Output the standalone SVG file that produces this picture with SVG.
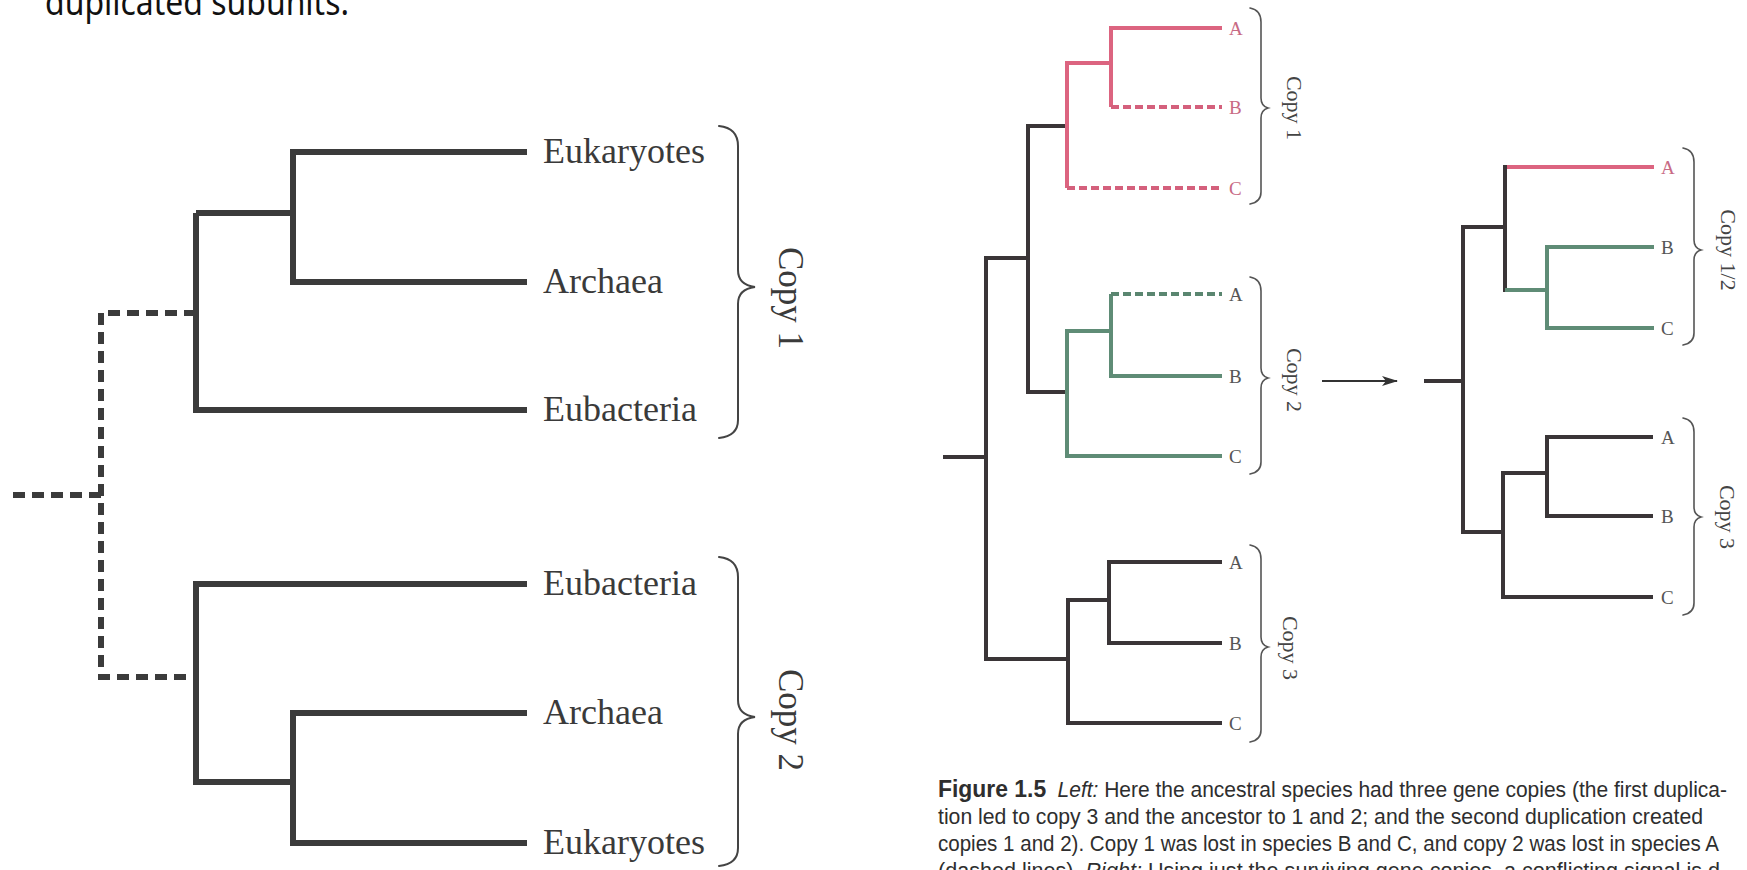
<svg xmlns="http://www.w3.org/2000/svg" width="1747" height="870" viewBox="0 0 1747 870">
  <defs>
    <style>
      .lt { fill: none; stroke: #3b3b3b; stroke-width: 6; stroke-linejoin: miter; stroke-linecap: butt; }
      .lt-dash { fill: none; stroke: #3b3b3b; stroke-width: 6; stroke-dasharray: 12 7; stroke-linecap: butt; }
      .br { fill: none; stroke: #444; stroke-width: 2; stroke-linecap: round; }
      .brs { fill: none; stroke: #555; stroke-width: 1.6; stroke-linecap: round; }
      .k { fill: none; stroke: #3a3537; stroke-width: 4; stroke-linejoin: miter; }
      .r { fill: none; stroke: #dc6480; stroke-width: 4; stroke-linejoin: miter; }
      .r-dash { fill: none; stroke: #d4607c; stroke-width: 4; stroke-dasharray: 8 4; }
      .g { fill: none; stroke: #5f8c76; stroke-width: 4; stroke-linejoin: miter; }
      .g-dash { fill: none; stroke: #5a8670; stroke-width: 4; stroke-dasharray: 8 4; }
      .taxon { font-family: "Liberation Serif", "Times New Roman", serif; font-size: 36px; fill: #3a3a3a; }
      .copyL { font-family: "Liberation Serif", "Times New Roman", serif; font-size: 35px; fill: #3a3a3a; text-anchor: middle; }
      .leaf { font-family: "Liberation Serif", "Times New Roman", serif; font-size: 19px; fill: #555; }
      .leaf-r { fill: #c86a84; }
      .copyS { font-family: "Liberation Serif", "Times New Roman", serif; font-size: 22px; fill: #444; text-anchor: middle; }
      .cap { font-family: "Liberation Sans", Arial, sans-serif; font-size: 22px; fill: #2e2e2e; }
      .b { font-weight: bold; font-size: 24px; }
      .i { font-style: italic; }
      .head { font-family: "Noto Sans", "DejaVu Sans", sans-serif; font-size: 36px; fill: #111; }
    </style>
    <marker id="arrowhead" viewBox="0 0 16 10" refX="15" refY="5" markerWidth="16" markerHeight="10" markerUnits="userSpaceOnUse" orient="auto">
      <path d="M0,0 L16,5 L0,10 L4,5 z" fill="#333"/>
    </marker>
  </defs>

  <rect width="1747" height="870" fill="#fff"/>

  <!-- heading, clipped by the top edge -->
  <text class="head" x="45" y="15" textLength="304" lengthAdjust="spacingAndGlyphs">duplicated subunits:</text>

  <g id="connectors">
    <!-- ancestral duplication (dashed) -->
    <path class="lt-dash" d="M13,495 H101"/>
    <path class="lt-dash" d="M196,313 H101 V677 H196"/>

    <!-- copy 1 -->
    <path class="lt" d="M196,213 V410 H527"/>
    <path class="lt" d="M196,213 H293"/>
    <path class="lt" d="M527,152 H293 V282 H527"/>

    <!-- copy 2 -->
    <path class="lt" d="M527,584 H196 V782 H293"/>
    <path class="lt" d="M527,713 H293 V843 H527"/>

    <!-- species tree with three copies -->
    <path class="k" d="M943,457 H986"/>
    <path class="k" d="M1028,258 H986 V659 H1068"/>
    <path class="k" d="M1067,126 H1028 V392 H1067"/>

    <path class="r" d="M1222,28 H1111 V107"/>
    <path class="r" d="M1111,63 H1067 V188"/>
    <path class="r-dash" d="M1111,107 H1222"/>
    <path class="r-dash" d="M1067,188 H1222"/>

    <path class="g" d="M1111,294 V376 H1222"/>
    <path class="g" d="M1111,331 H1067 V456 H1222"/>
    <path class="g-dash" d="M1111,294 H1222"/>

    <path class="k" d="M1222,562 H1109 V643 H1222"/>
    <path class="k" d="M1109,600 H1068 V723 H1222"/>

    <!-- transition arrow -->
    <path d="M1322,381 H1397" stroke="#333" stroke-width="2.2" fill="none" marker-end="url(#arrowhead)"/>

    <!-- gene tree from surviving copies -->
    <path class="k" d="M1424,381 H1463"/>
    <path class="k" d="M1505,227 H1463 V532 H1503"/>
    <path class="k" d="M1507,167 H1505 V292"/>
    <path class="r" d="M1507,167 H1654"/>
    <path class="g" d="M1505,290 H1547"/>
    <path class="g" d="M1654,247 H1547 V328 H1654"/>
    <path class="k" d="M1653,437 H1547 V516 H1653"/>
    <path class="k" d="M1547,473 H1503 V597 H1653"/>
  </g>

  <g id="node-left-copy1">
    <text class="taxon" x="543" y="163">Eukaryotes</text>
    <text class="taxon" x="543" y="293">Archaea</text>
    <text class="taxon" x="543" y="421">Eubacteria</text>
    <path class="br" d="M719,126 Q738,128 738,146 V270 Q738,285 755,287 Q738,289 738,304 V420 Q738,436 719,438"/>
    <text class="copyL" transform="translate(779,298) rotate(90)">Copy 1</text>
  </g>

  <g id="node-left-copy2">
    <text class="taxon" x="543" y="595">Eubacteria</text>
    <text class="taxon" x="543" y="724">Archaea</text>
    <text class="taxon" x="543" y="854">Eukaryotes</text>
    <path class="br" d="M719,557 Q738,559 738,577 V700 Q738,715 755,717 Q738,719 738,734 V848 Q738,864 719,866"/>
    <text class="copyL" transform="translate(779,720) rotate(90)">Copy 2</text>
  </g>

  <g id="node-fig-copy1">
    <text class="leaf leaf-r" x="1229" y="35">A</text>
    <text class="leaf leaf-r" x="1229" y="114">B</text>
    <text class="leaf leaf-r" x="1229" y="195">C</text>
    <path class="brs" d="M1250,8 Q1261,10 1261,22 V98 Q1261,106 1268,108 Q1261,110 1261,118 V192 Q1261,202 1250,204"/>
    <text class="copyS" transform="translate(1287,108) rotate(90)">Copy 1</text>
  </g>

  <g id="node-fig-copy2">
    <text class="leaf" x="1229" y="301">A</text>
    <text class="leaf" x="1229" y="383">B</text>
    <text class="leaf" x="1229" y="463">C</text>
    <path class="brs" d="M1250,277 Q1261,279 1261,291 V368 Q1261,376 1268,378 Q1261,380 1261,388 V462 Q1261,472 1250,474"/>
    <text class="copyS" transform="translate(1287,380) rotate(90)">Copy 2</text>
  </g>

  <g id="node-fig-copy3">
    <text class="leaf" x="1229" y="569">A</text>
    <text class="leaf" x="1229" y="650">B</text>
    <text class="leaf" x="1229" y="730">C</text>
    <path class="brs" d="M1250,545 Q1261,547 1261,559 V637 Q1261,645 1268,647 Q1261,649 1261,657 V730 Q1261,740 1250,742"/>
    <text class="copyS" transform="translate(1283,648) rotate(90)">Copy 3</text>
  </g>

  <g id="node-gene-copy12">
    <text class="leaf leaf-r" x="1661" y="174">A</text>
    <text class="leaf" x="1661" y="254">B</text>
    <text class="leaf" x="1661" y="335">C</text>
    <path class="brs" d="M1683,148 Q1694,150 1694,162 V240 Q1694,248 1701,250 Q1694,252 1694,260 V333 Q1694,343 1683,345"/>
    <text class="copyS" transform="translate(1721,250) rotate(90)">Copy 1/2</text>
  </g>

  <g id="node-gene-copy3">
    <text class="leaf" x="1661" y="444">A</text>
    <text class="leaf" x="1661" y="523">B</text>
    <text class="leaf" x="1661" y="604">C</text>
    <path class="brs" d="M1683,418 Q1694,420 1694,432 V507 Q1694,515 1701,517 Q1694,519 1694,527 V603 Q1694,613 1683,615"/>
    <text class="copyS" transform="translate(1720,517) rotate(90)">Copy 3</text>
  </g>

  <g id="caption">
    <text class="cap" x="938" y="797" textLength="789" lengthAdjust="spacingAndGlyphs"><tspan class="b">Figure 1.5</tspan><tspan class="i" dx="12">Left:</tspan> Here the ancestral species had three gene copies (the first duplica-</text>
    <text class="cap" x="938" y="824" textLength="765" lengthAdjust="spacingAndGlyphs">tion led to copy 3 and the ancestor to 1 and 2; and the second duplication created</text>
    <text class="cap" x="938" y="851" textLength="781" lengthAdjust="spacingAndGlyphs">copies 1 and 2). Copy 1 was lost in species B and C, and copy 2 was lost in species A</text>
    <text class="cap" x="938" y="878" textLength="782" lengthAdjust="spacingAndGlyphs">(dashed lines). <tspan class="i">Right:</tspan> Using just the surviving gene copies, a conflicting signal is d</text>
  </g>
</svg>
